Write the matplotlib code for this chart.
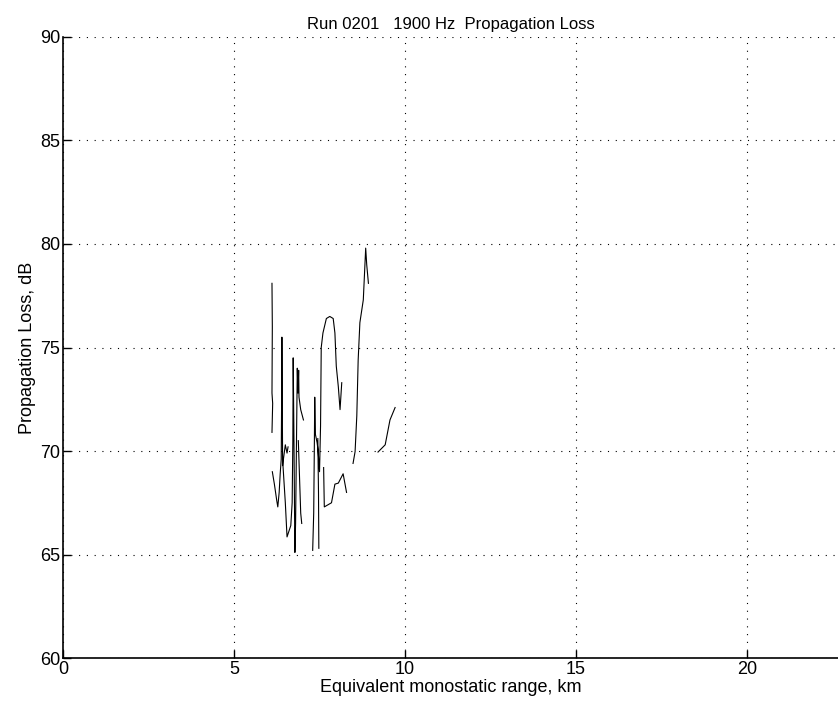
import numpy as np
import matplotlib
matplotlib.use('Agg')
import matplotlib.pyplot as plt

plt.rcParams['font.family'] = ['Liberation Sans', 'DejaVu Sans']

title = 'Run 0201   1900 Hz  Propagation Loss'
x_label = 'Equivalent monostatic range, km'
y_label = 'Propagation Loss, dB'
x_ticks = [0, 5, 10, 15, 20]
y_ticks = [60, 65, 70, 75, 80, 85, 90]

# track segments (nan = break in the line)
range_km = [6.11, 6.12, 6.11, 6.13, 6.11, np.nan,
            6.12, 6.18, 6.25, 6.28, 6.32, 6.35, 6.38, 6.39, 6.40, 6.41, 6.42,
            6.50, 6.55, 6.62, 6.66, 6.70, 6.72, 6.73, 6.75, 6.77, 6.78, 6.80,
            6.82, 6.84, 6.85, 6.87, 6.89, 6.90, 6.95, 7.03, np.nan,
            6.42, 6.46, 6.50, 6.55, 6.58, np.nan,
            6.88, 6.92, 6.95, 6.98, np.nan,
            7.30, 7.33, 7.35, 7.36, 7.38, 7.43, 7.46, 7.50, 7.53, 7.55, 7.60,
            7.70, 7.80, 7.90, 7.95, 7.99, 8.05, 8.10, 8.15, np.nan,
            7.45, 7.47, 7.48, np.nan,
            7.62, 7.64, 7.85, 7.95, 8.05, 8.19, 8.29, np.nan,
            8.48, 8.54, 8.59, 8.63, 8.68, 8.78, 8.85, 8.88, 8.93, np.nan,
            9.21, 9.42, 9.56, 9.71]
loss_db = [78.1, 76.0, 72.8, 72.3, 70.9, np.nan,
           69.0, 68.4, 67.6, 67.3, 68.0, 68.9, 69.6, 72.0, 75.5, 73.0, 69.6,
           67.5, 65.85, 66.2, 66.4, 67.5, 70.5, 74.5, 71.0, 67.0, 65.1, 66.5,
           69.5, 72.5, 74.0, 72.8, 73.9, 72.6, 72.0, 71.5, np.nan,
           69.3, 69.8, 70.3, 69.9, 70.2, np.nan,
           70.5, 68.5, 67.0, 66.5, np.nan,
           65.2, 67.0, 70.5, 72.6, 70.8, 70.4, 70.0, 69.0, 71.2, 75.0, 75.7,
           76.4, 76.5, 76.4, 75.7, 74.1, 73.1, 72.0, 73.3, np.nan,
           70.6, 68.0, 65.3, np.nan,
           69.2, 67.3, 67.5, 68.4, 68.45, 68.9, 68.0, np.nan,
           69.4, 69.97, 71.7, 74.4, 76.2, 77.3, 79.8, 79.0, 78.1, np.nan,
           69.95, 70.3, 71.5, 72.1]


def main():
    fig = plt.figure(figsize=(8.38, 7.14), dpi=100)
    ax = fig.add_axes([0.0752, 0.0784, 0.9248, 0.8698])

    ax.plot(range_km, loss_db, color='black', linewidth=0.8)

    ax.set_xlim(0, 22.66)
    ax.set_ylim(60, 90)
    ax.set_xticks(x_ticks)
    ax.set_yticks(y_ticks)
    ax.tick_params(direction='in', length=6, width=1, labelsize=13, pad=2)
    ax.grid(True, color='black', linewidth=0.8, linestyle=(0, (1, 6)))
    ax.spines['top'].set_visible(False)
    ax.spines['right'].set_visible(False)
    ax.spines['left'].set_linewidth(1.2)
    ax.spines['bottom'].set_linewidth(1.2)

    ax.set_title(title, fontsize=12, pad=6)
    ax.set_xlabel(x_label, fontsize=13, labelpad=1)
    ax.set_ylabel(y_label, fontsize=13, labelpad=3)

    fig.savefig('out.png', dpi=100)


if __name__ == '__main__':
    main()
